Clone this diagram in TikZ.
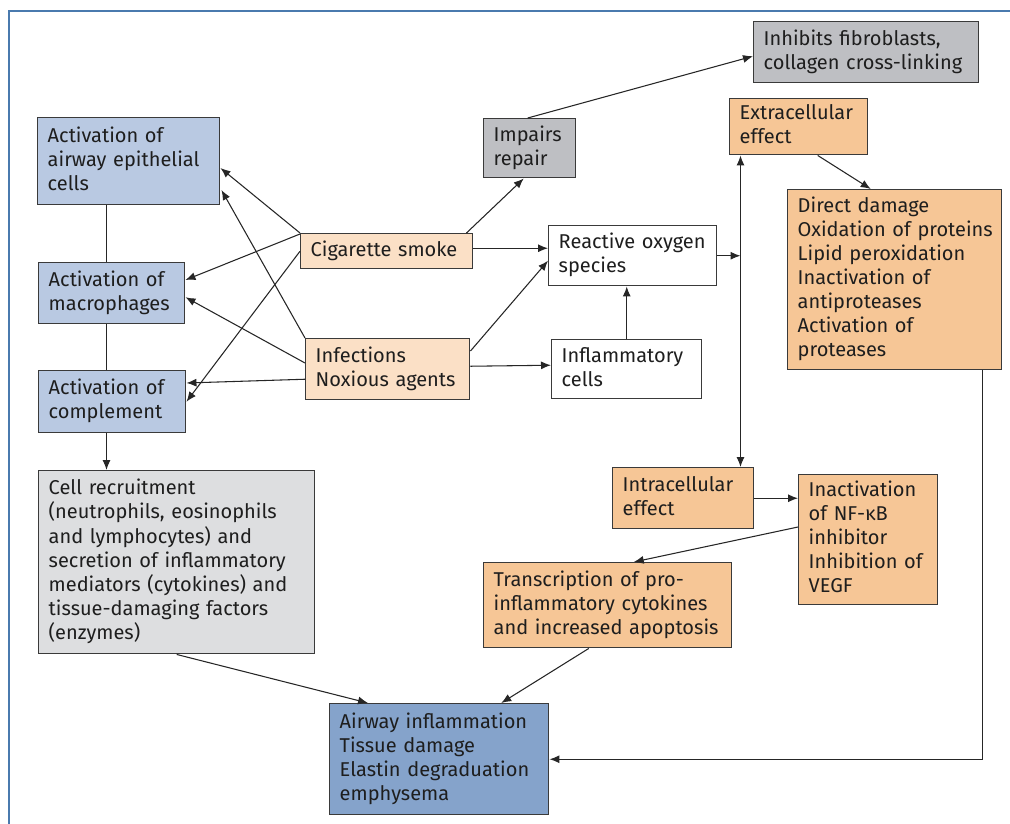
\documentclass[tikz,border=0pt]{standalone}
\usepackage{fontspec}
\setmainfont{Fira Sans}
\usetikzlibrary{arrows.meta,calc}
\definecolor{lblue}{HTML}{B9C9E2}
\definecolor{dblue}{HTML}{85A3CB}
\definecolor{peach}{HTML}{FBE0C6}
\definecolor{orng}{HTML}{F6C696}
\definecolor{grayA}{HTML}{BEBFC3}
\definecolor{grayB}{HTML}{DDDEE0}
\definecolor{boxline}{HTML}{3A3A3A}
\definecolor{txtc}{HTML}{1E1E1E}
\definecolor{framec}{HTML}{4A7AAE}
\newcommand\lns[1]{\begin{tabular}{@{}l@{}}#1\end{tabular}}
\begin{document}
\begin{tikzpicture}[x=0.75pt,y=-0.75pt,
  font=\fontsize{15}{18}\selectfont,
  bx/.style 2 args={draw=boxline, line width=1.1pt, anchor=north west,
    inner xsep=7.5pt, inner ysep=1pt,
    minimum width=#1*0.75pt, minimum height=#2*0.75pt,
    text width=#1*0.75pt-15pt, text=txtc},
  conn/.style={line width=0.8pt, draw=black!85},
  arr/.style={conn, -{Latex[length=7.5pt,width=6pt]}},
  dblarr/.style={conn, {Latex[length=7.5pt,width=6pt]}-{Latex[length=7.5pt,width=6pt]}},
  framestyle/.style={draw=framec, line width=1.5pt}
]
\useasboundingbox (0,0) rectangle (1010,824);
\draw[framestyle] (9,830) -- (9,11) -- (1015,11);

\node[bx={182}{87}, fill=lblue] (epi) at (37,117) {\lns{Activation of\\airway epithelial\\cells}};
\node[bx={146}{61}, fill=lblue] (mac) at (38,262) {\lns{Activation of\\macrophages}};
\node[bx={147}{62}, fill=lblue] (comp) at (38,370) {\lns{Activation of\\complement}};
\node[bx={172}{35}, fill=peach] (cig) at (300,233) {\lns{Cigarette smoke}};
\node[bx={164}{61}, fill=peach] (inf) at (305,338) {\lns{Infections\\Noxious agents}};
\node[bx={92}{59}, fill=grayA] (imp) at (483,118) {\lns{Impairs\\repair}};
\node[bx={225}{61}, fill=grayA] (inh) at (753,21) {\lns{Inhibits fibroblasts,\\collagen cross-linking}};
\node[bx={138}{56}, fill=orng] (ext) at (729,98) {\lns{Extracellular\\effect}};
\node[bx={168}{60}, fill=white] (ros) at (548,225) {\lns{Reactive oxygen\\species}};
\node[bx={150}{59}, fill=white] (infl) at (551,339) {\lns{Inflammatory\\cells}};
\node[bx={214}{180}, fill=orng] (dd) at (787,189) {\lns{Direct damage\\Oxidation of proteins\\Lipid peroxidation\\Inactivation of\\antiproteases\\Activation of\\proteases}};
\node[bx={141}{61}, fill=orng] (intra) at (612,467) {\lns{Intracellular\\effect}};
\node[bx={139}{130}, fill=orng] (inact) at (798,474) {\lns{Inactivation\\of NF-κB\\inhibitor\\Inhibition of\\VEGF}};
\node[bx={248}{85}, fill=orng] (trans) at (483,562) {\lns{Transcription of pro-\\inflammatory cytokines\\and increased apoptosis}};
\node[bx={276}{183}, fill=grayB] (cell) at (38,470) {\lns{Cell recruitment\\(neutrophils, eosinophils\\and lymphocytes) and\\secretion of inflammatory\\mediators (cytokines) and\\tissue-damaging factors\\(enzymes)}};
\node[bx={219}{111}, fill=dblue] (air) at (329,703) {\lns{Airway inflammation\\Tissue damage\\Elastin degraduation\\emphysema}};

% left spine
\coordinate (spine) at ($(epi.south west)+(69.5,0)$);
\draw[conn] (spine) -- (spine |- mac.north);
\draw[conn] (spine |- mac.south) -- (spine |- comp.north);
\draw[arr] (spine |- comp.south) -- (spine |- cell.north);

% cigarette smoke
\draw[arr] (cig.north west) -- ($(epi.north east)+(0,51)$);
\draw[arr] ($(cig.north west)+(0,1)$) -- ($(mac.north east)+(0,18)$);
\draw[arr] (cig.west) -- (comp.east);
\draw[arr] ($(cig.north east)+(-7,0)$) -- ($(imp.south)+(-6,0)$);
\coordinate (cigr) at ($(cig.east)+(0,-3)$);
\draw[arr] (cigr) -- (cigr -| ros.west);

% infections
\draw[arr] (inf.north west) -- ($(epi.north east)+(1,73)$);
\draw[arr] ($(inf.north west)+(0,25)$) -- ($(mac.east)+(0,4)$);
\draw[arr] ($(inf.west)+(0,10)$) -- ($(comp.north east)+(0,13)$);
\draw[arr] ($(inf.north east)+(0,13)$) -- ($(ros.west)+(0,5)$);
\draw[arr] ($(inf.east)+(0,-3)$) -- ($(infl.west)+(0,-4)$);

% ROS and effects
\draw[arr] (infl.north) -- (infl.north |- ros.south);
\draw[arr] ($(imp.north)+(-2,0)$) -- ($(inh.west)+(0,4)$);
\coordinate (vtop) at ($(ext.south west)+(11.5,0)$);
\coordinate (vbot) at (vtop |- intra.north);
\draw[dblarr] (vtop) -- (vbot);
\draw[arr] (ros.east) -- (ros.east -| vtop);
\draw[arr] ($(ext.south)+(19,0)$) -- ($(dd.north)+(-24,0)$);
\draw[arr] (intra.east) -- (intra.east -| inact.west);
\draw[arr] ($(inact.north west)+(0,53)$) -- ($(trans.north)+(26,0)$);
\draw[arr] ($(trans.south)+(-19,0)$) -- ($(air.north)+(62,0)$);
\draw[arr] (cell.south) -- ($(air.north west)+(39,0)$);
\draw[arr] ($(dd.south east)+(-20,0)$) |- (air.east);
\end{tikzpicture}
\end{document}
